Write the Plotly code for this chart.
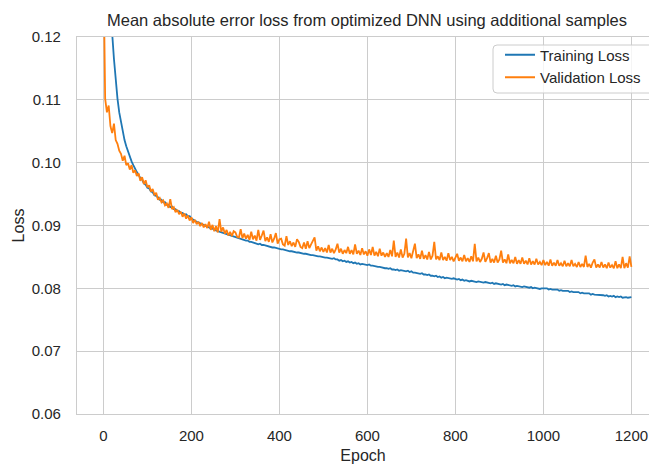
import plotly.graph_objects as go

# Epoch index for both curves (sampled every 4 epochs)
epochs = list(range(0, 1201, 4))

training_loss = [
    0.2600, 0.1650, 0.1430, 0.1320, 0.1255, 0.1205, 0.1165, 0.1130, 0.1102, 0.1080,
    0.1063, 0.1048, 0.1036, 0.1026, 0.1017, 0.1009, 0.1002, 0.0996, 0.0990, 0.0985,
    0.0981, 0.0975, 0.0973, 0.0967, 0.0965, 0.0960, 0.0959, 0.0954, 0.0953, 0.0948,
    0.0947, 0.0945, 0.0941, 0.0941, 0.0937, 0.0937, 0.0933, 0.0933, 0.0929, 0.0930,
    0.0926, 0.0926, 0.0923, 0.0923, 0.0920, 0.0920, 0.0917, 0.0918, 0.0915, 0.0915,
    0.0911, 0.0909, 0.0908, 0.0906, 0.0905, 0.0903, 0.0902, 0.0901, 0.0899, 0.0898,
    0.0897, 0.0895, 0.0895, 0.0893, 0.0892, 0.0891, 0.0890, 0.0889, 0.0888, 0.0887,
    0.0886, 0.0885, 0.0884, 0.0883, 0.0882, 0.0882, 0.0880, 0.0880, 0.0878, 0.0878,
    0.0877, 0.0876, 0.0876, 0.0874, 0.0874, 0.0873, 0.0872, 0.0872, 0.0870, 0.0871,
    0.0869, 0.0869, 0.0868, 0.0867, 0.0867, 0.0866, 0.0865, 0.0865, 0.0864, 0.0864,
    0.0863, 0.0862, 0.0862, 0.0861, 0.0861, 0.0860, 0.0859, 0.0859, 0.0858, 0.0858,
    0.0857, 0.0857, 0.0856, 0.0856, 0.0855, 0.0855, 0.0854, 0.0854, 0.0853, 0.0853,
    0.0852, 0.0852, 0.0851, 0.0851, 0.0850, 0.0850, 0.0849, 0.0849, 0.0848, 0.0848,
    0.0847, 0.0848, 0.0846, 0.0846, 0.0844, 0.0845, 0.0843, 0.0844, 0.0842, 0.0843,
    0.0841, 0.0842, 0.0840, 0.0841, 0.0839, 0.0840, 0.0838, 0.0839, 0.0838, 0.0838,
    0.0837, 0.0838, 0.0836, 0.0836, 0.0835, 0.0835, 0.0834, 0.0834, 0.0833, 0.0833,
    0.0832, 0.0832, 0.0831, 0.0832, 0.0830, 0.0830, 0.0829, 0.0830, 0.0828, 0.0829,
    0.0828, 0.0828, 0.0827, 0.0828, 0.0826, 0.0827, 0.0825, 0.0825, 0.0824, 0.0824,
    0.0823, 0.0824, 0.0822, 0.0822, 0.0821, 0.0822, 0.0820, 0.0820, 0.0819, 0.0820,
    0.0818, 0.0819, 0.0817, 0.0818, 0.0816, 0.0817, 0.0816, 0.0816, 0.0815, 0.0816,
    0.0815, 0.0814, 0.0815, 0.0813, 0.0814, 0.0812, 0.0813, 0.0812, 0.0811, 0.0812,
    0.0811, 0.0811, 0.0810, 0.0811, 0.0810, 0.0810, 0.0809, 0.0810, 0.0809, 0.0809,
    0.0808, 0.0809, 0.0807, 0.0808, 0.0807, 0.0807, 0.0806, 0.0807, 0.0805, 0.0806,
    0.0805, 0.0805, 0.0804, 0.0805, 0.0803, 0.0804, 0.0803, 0.0803, 0.0802, 0.0803,
    0.0802, 0.0802, 0.0801, 0.0802, 0.0800, 0.0801, 0.0800, 0.0800, 0.0799, 0.0800,
    0.0800, 0.0799, 0.0800, 0.0798, 0.0799, 0.0798, 0.0798, 0.0797, 0.0798, 0.0796,
    0.0797, 0.0796, 0.0796, 0.0795, 0.0796, 0.0794, 0.0795, 0.0794, 0.0794, 0.0793,
    0.0794, 0.0792, 0.0793, 0.0792, 0.0792, 0.0791, 0.0792, 0.0790, 0.0791, 0.0790,
    0.0790, 0.0789, 0.0790, 0.0789, 0.0789, 0.0788, 0.0789, 0.0787, 0.0788, 0.0787,
    0.0788, 0.0786, 0.0787, 0.0786, 0.0787, 0.0785, 0.0786, 0.0786, 0.0785, 0.0786,
    0.0786,
]

validation_loss = [
    0.1320, 0.1102, 0.1080, 0.1091, 0.1058, 0.1047, 0.1062, 0.1036, 0.1030, 0.1019,
    0.1014, 0.1003, 0.1011, 0.0996, 0.0999, 0.0989, 0.0996, 0.0984, 0.0988, 0.0979,
    0.0983, 0.0971, 0.0977, 0.0966, 0.0972, 0.0961, 0.0964, 0.0954, 0.0958, 0.0949,
    0.0952, 0.0941, 0.0944, 0.0937, 0.0940, 0.0932, 0.0935, 0.0928, 0.0942, 0.0926,
    0.0929, 0.0921, 0.0925, 0.0918, 0.0922, 0.0914, 0.0919, 0.0911, 0.0916, 0.0908,
    0.0913, 0.0904, 0.0909, 0.0902, 0.0906, 0.0899, 0.0904, 0.0897, 0.0902, 0.0896,
    0.0906, 0.0893, 0.0901, 0.0891, 0.0899, 0.0889, 0.0910, 0.0890, 0.0897, 0.0887,
    0.0893, 0.0884, 0.0890, 0.0883, 0.0891, 0.0889, 0.0882, 0.0881, 0.0894, 0.0880,
    0.0887, 0.0879, 0.0885, 0.0877, 0.0890, 0.0878, 0.0884, 0.0876, 0.0893, 0.0877,
    0.0884, 0.0892, 0.0875, 0.0881, 0.0874, 0.0886, 0.0873, 0.0879, 0.0888, 0.0871,
    0.0878, 0.0879, 0.0870, 0.0868, 0.0883, 0.0869, 0.0875, 0.0867, 0.0873, 0.0866,
    0.0878, 0.0874, 0.0866, 0.0864, 0.0873, 0.0863, 0.0875, 0.0864, 0.0870, 0.0877,
    0.0881, 0.0860, 0.0867, 0.0859, 0.0865, 0.0858, 0.0864, 0.0857, 0.0869, 0.0857,
    0.0863, 0.0856, 0.0862, 0.0871, 0.0857, 0.0863, 0.0855, 0.0861, 0.0856, 0.0866,
    0.0855, 0.0861, 0.0854, 0.0870, 0.0855, 0.0860, 0.0853, 0.0864, 0.0854, 0.0859,
    0.0852, 0.0862, 0.0853, 0.0866, 0.0852, 0.0858, 0.0851, 0.0863, 0.0852, 0.0857,
    0.0850, 0.0856, 0.0850, 0.0861, 0.0851, 0.0876, 0.0850, 0.0857, 0.0849, 0.0862,
    0.0849, 0.0855, 0.0879, 0.0849, 0.0856, 0.0848, 0.0858, 0.0871, 0.0848, 0.0854,
    0.0847, 0.0860, 0.0847, 0.0853, 0.0846, 0.0858, 0.0846, 0.0852, 0.0874, 0.0846,
    0.0851, 0.0845, 0.0857, 0.0845, 0.0850, 0.0844, 0.0856, 0.0845, 0.0850, 0.0843,
    0.0849, 0.0855, 0.0844, 0.0849, 0.0843, 0.0853, 0.0843, 0.0848, 0.0842, 0.0851,
    0.0843, 0.0871, 0.0843, 0.0849, 0.0842, 0.0847, 0.0857, 0.0842, 0.0848, 0.0856,
    0.0841, 0.0847, 0.0841, 0.0852, 0.0841, 0.0846, 0.0860, 0.0841, 0.0846, 0.0840,
    0.0854, 0.0840, 0.0845, 0.0840, 0.0850, 0.0839, 0.0845, 0.0839, 0.0849, 0.0839,
    0.0844, 0.0838, 0.0848, 0.0838, 0.0843, 0.0838, 0.0847, 0.0838, 0.0842, 0.0837,
    0.0845, 0.0837, 0.0842, 0.0836, 0.0846, 0.0836, 0.0841, 0.0836, 0.0845, 0.0836,
    0.0840, 0.0835, 0.0844, 0.0835, 0.0840, 0.0835, 0.0845, 0.0835, 0.0839, 0.0834,
    0.0842, 0.0834, 0.0839, 0.0834, 0.0852, 0.0834, 0.0839, 0.0833, 0.0841, 0.0846,
    0.0833, 0.0838, 0.0833, 0.0842, 0.0833, 0.0838, 0.0832, 0.0841, 0.0833, 0.0837,
    0.0832, 0.0843, 0.0832, 0.0838, 0.0832, 0.0850, 0.0832, 0.0840, 0.0833, 0.0851,
    0.0834,
]

series_names = ["Training Loss", "Validation Loss"]
series_colors = ["#1f77b4", "#ff7f0e"]

y_ticks = [0.06, 0.07, 0.08, 0.09, 0.10, 0.11, 0.12]
x_ticks = [0, 200, 400, 600, 800, 1000, 1200]

FONT = "Liberation Sans, Arial, Helvetica, sans-serif"
GRID = "#cccccc"
TEXT = "#262626"

# Plot area in pixels: x 77..649, y 37..414
PLOT_L, PLOT_W, PLOT_B, PLOT_H = 77, 572, 414, 377


def px_to_paper(px, py):
    return (px - PLOT_L) / PLOT_W, (PLOT_B - py) / PLOT_H


def rounded_box(x0, y0, x1, y1, r):
    """SVG path (paper coords) for a rectangle with rounded corners, given in pixels."""
    rx, ry = r / PLOT_W, r / PLOT_H
    a0, b0 = px_to_paper(x0, y1)  # bottom-left
    a1, b1 = px_to_paper(x1, y0)  # top-right
    return (
        f"M {a0 + rx},{b0} L {a1 - rx},{b0} Q {a1},{b0} {a1},{b0 + ry} "
        f"L {a1},{b1 - ry} Q {a1},{b1} {a1 - rx},{b1} "
        f"L {a0 + rx},{b1} Q {a0},{b1} {a0},{b1 - ry} "
        f"L {a0},{b0 + ry} Q {a0},{b0} {a0 + rx},{b0} Z"
    )


fig = go.Figure()
for name, values, color in zip(series_names, [training_loss, validation_loss], series_colors):
    fig.add_trace(go.Scatter(
        x=epochs, y=values, mode="lines", name=name,
        line=dict(color=color, width=1.8),
    ))

# legend frame (rounded, semi-transparent white)
fig.add_shape(
    type="path", xref="paper", yref="paper",
    path=rounded_box(493, 45, 655, 93, 4),
    fillcolor="rgba(255,255,255,0.8)", line=dict(color=GRID, width=1),
    layer="above",
)

lx, ly = px_to_paper(500, 38.5)
fig.update_layout(
    width=649, height=464,
    margin=dict(l=PLOT_L, r=0, t=37, b=50),
    paper_bgcolor="white", plot_bgcolor="white",
    font=dict(family=FONT, color=TEXT, size=15),
    title=dict(
        text="Mean absolute error loss from optimized DNN using additional samples",
        x=367 / 649, xref="container", xanchor="center",
        y=1 - 20 / 464, yref="container", yanchor="middle",
        font=dict(size=16.5, color=TEXT),
    ),
    showlegend=True,
    legend=dict(
        x=lx, y=ly, xanchor="left", yanchor="top",
        bgcolor="rgba(0,0,0,0)", borderwidth=0,
        font=dict(size=15, color=TEXT), itemwidth=30,
    ),
)

fig.update_xaxes(
    range=[-60, 1240], tickvals=x_ticks,
    showgrid=True, gridcolor=GRID, gridwidth=1.2,
    showline=True, linecolor=GRID, linewidth=1.25, mirror=True,
    zeroline=False,
    ticks="outside", ticklen=8, tickcolor="rgba(0,0,0,0)",
    tickfont=dict(size=15, color=TEXT),
    title=dict(text="Epoch", font=dict(size=16, color=TEXT), standoff=9),
)
fig.update_yaxes(
    range=[0.06, 0.12], tickvals=y_ticks, tickformat=".2f",
    showgrid=True, gridcolor=GRID, gridwidth=1.2,
    showline=True, linecolor=GRID, linewidth=1.25, mirror=False,
    zeroline=False,
    ticks="outside", ticklen=12, tickcolor="rgba(0,0,0,0)",
    tickfont=dict(size=15, color=TEXT),
    title=dict(text="Loss", font=dict(size=16, color=TEXT), standoff=3),
)

fig.write_html("out.html")
